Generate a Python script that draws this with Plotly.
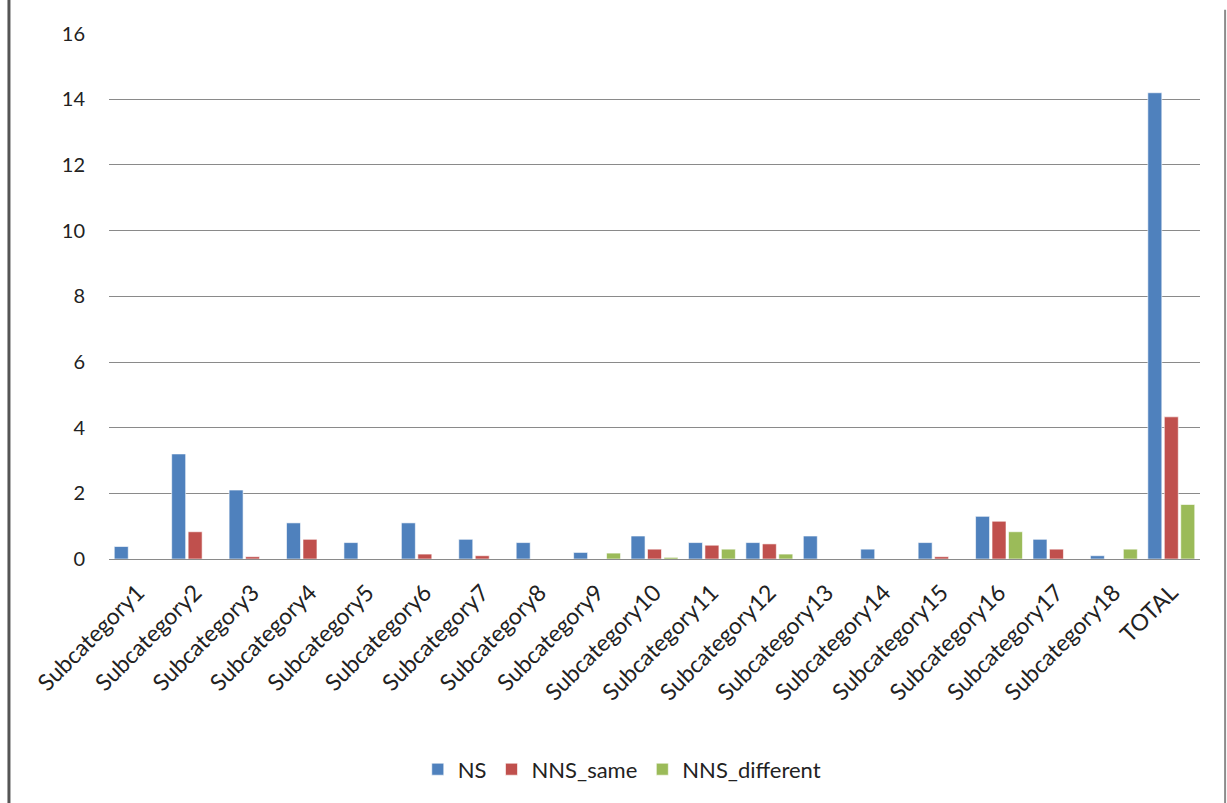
import plotly.graph_objects as go

categories = [f"Subcategory{i}" for i in range(1, 19)] + ["TOTAL"]

ns = [0.38, 3.2, 2.1, 1.1, 0.5, 1.1, 0.6, 0.5, 0.2, 0.7,
      0.5, 0.5, 0.7, 0.3, 0.5, 1.3, 0.6, 0.1, 14.2]
nns_same = [0, 0.83, 0.07, 0.6, 0, 0.15, 0.1, 0, 0, 0.3,
            0.42, 0.46, 0, 0, 0.07, 1.15, 0.3, 0, 4.33]
nns_different = [0, 0, 0, 0, 0, 0, 0, 0, 0.18, 0.05,
                 0.3, 0.15, 0, 0, 0, 0.83, 0, 0.3, 1.66]

y_ticks = [0, 2, 4, 6, 8, 10, 12, 14, 16]

series = [
    ("NS", ns, "#4F81BD"),
    ("NNS_same", nns_same, "#C0504D"),
    ("NNS_different", nns_different, "#9BBB59"),
]

FONT = "Lato, Carlito, Calibri, sans-serif"

fig = go.Figure()
for name, vals, color in series:
    fig.add_trace(go.Bar(
        x=categories, y=vals, name=name,
        marker=dict(color=color, line=dict(color="rgba(255,255,255,0.6)", width=1)),
    ))

fig.update_layout(
    width=1227, height=803,
    margin=dict(l=109, r=27, t=33, b=244),
    paper_bgcolor="white", plot_bgcolor="white",
    barmode="group", bargap=0.14, bargroupgap=0.15,
    font=dict(family=FONT, size=21, color="#222222"),
    showlegend=True,
    legend=dict(orientation="h", x=0.47, xanchor="center", y=-0.40, yanchor="middle",
                font=dict(size=22), itemwidth=30, traceorder="normal"),
    xaxis=dict(
        tickangle=-45, showgrid=False, showline=True, linecolor="#8a8a8a", linewidth=1,
        ticks="outside", ticklen=10, tickcolor="rgba(0,0,0,0)",
        tickfont=dict(size=23, family=FONT),
    ),
    yaxis=dict(
        range=[0, 16.02], tickvals=y_ticks, showgrid=True, gridcolor="#8a8a8a", gridwidth=1,
        zeroline=False, showline=False, ticks="", ticklabelstandoff=23,
        tickfont=dict(size=20, family=FONT),
    ),
)

# Outer frame lines on the left and right edges of the page
fig.add_shape(type="line", xref="paper", yref="paper",
              x0=-0.0917, x1=-0.0917, y0=1.07, y1=-0.47,
              line=dict(color="#555555", width=3))
fig.add_shape(type="line", xref="paper", yref="paper",
              x0=1.023, x1=1.023, y0=1.044, y1=-0.47,
              line=dict(color="#8c8c8c", width=2))

fig.write_html("out.html")
